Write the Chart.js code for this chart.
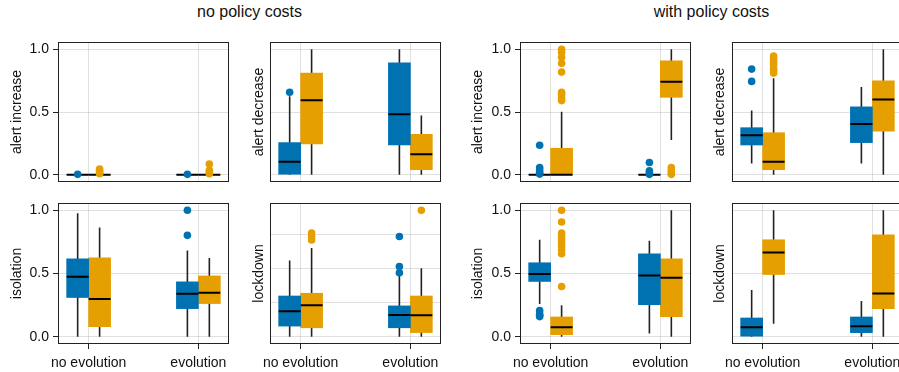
<!DOCTYPE html>
<html>
<head>
<meta charset="utf-8">
<script src="https://cdn.jsdelivr.net/npm/chart.js@4.4.0/dist/chart.umd.min.js"></script>
<style>
    html, body {
        margin: 0;
        padding: 0;
        background: #fff;
        width: 899px;
        height: 372px;
        overflow: hidden;
        position: relative;
        font-family: 'Liberation Sans', Arial, sans-serif;
    }
    .titulo {
        position: absolute;
        top: 2px;
        width: 381px;
        font-size: 16px;
        line-height: 20px;
        color: #111;
        text-align: center;
    }
    canvas { position: absolute; }
</style>
</head>
<body>
<div class="titulo" style="left:59px">no policy costs</div>
<div class="titulo" style="left:521px">with policy costs</div>
<script>
// Categorias do eixo x
const categorias = ['no evolution', 'evolution'];
const posCategorias = [1, 2];

// Cada caixa: [bigode inferior, q1, mediana, q3, bigode superior], uma por categoria
// A = série azul, B = série laranja

// no policy costs / alert increase
const ncAlertaSobeA = [[0, 0, 0, 0, 0], [0, 0, 0, 0, 0]];
const ncAlertaSobeB = [[0, 0, 0, 0, 0], [0, 0, 0, 0, 0]];
const ncAlertaSobeOutA = [[0.003], [0.003]];
const ncAlertaSobeOutB = [[0.008, 0.02, 0.035, 0.045], [0.008, 0.02, 0.035, 0.085]];

// no policy costs / alert decrease
const ncAlertaDesceA = [[0, 0, 0.103, 0.256, 0.625], [0, 0.237, 0.483, 0.892, 1.0]];
const ncAlertaDesceB = [[0, 0.245, 0.594, 0.81, 1.0], [0, 0.04, 0.164, 0.322, 0.472]];
const ncAlertaDesceOutA = [[0.657], []];
const ncAlertaDesceOutB = [[], []];

// no policy costs / isolation
const ncIsolamentoA = [[0, 0.31, 0.474, 0.616, 0.976], [0, 0.222, 0.339, 0.434, 0.683]];
const ncIsolamentoB = [[0, 0.079, 0.299, 0.624, 0.865], [0, 0.262, 0.347, 0.481, 0.622]];
const ncIsolamentoOutA = [[], [0.802, 1.0]];
const ncIsolamentoOutB = [[], []];

// no policy costs / lockdown
const ncLockdownA = [[0, 0.031, 0.074, 0.119, 0.223], [0, 0.026, 0.0635, 0.09, 0.178]];
const ncLockdownB = [[0, 0.026, 0.092, 0.127, 0.259], [0, 0.012, 0.0626, 0.119, 0.2]];
const ncLockdownOutA = [[], [0.187, 0.205, 0.293]];
const ncLockdownOutB = [[0.283, 0.293, 0.303], [0.3695]];

// with policy costs / alert increase
const wcAlertaSobeA = [[0, 0, 0, 0, 0], [0, 0, 0, 0, 0]];
const wcAlertaSobeB = [[0, 0, 0, 0.211, 0.501], [0.277, 0.617, 0.741, 0.908, 1.0]];
const wcAlertaSobeOutA = [[0.005, 0.02, 0.04, 0.058, 0.235], [0.003, 0.013, 0.032, 0.098]];
const wcAlertaSobeOutB = [[0.591, 0.612, 0.639, 0.657, 0.818, 0.889, 0.937, 0.974, 1.0], [0.003, 0.013, 0.032, 0.058]];

// with policy costs / alert decrease
const wcAlertaDesceA = [[0.09, 0.237, 0.314, 0.375, 0.512], [0.09, 0.256, 0.404, 0.541, 0.699]];
const wcAlertaDesceB = [[0, 0.04, 0.103, 0.335, 0.77], [0, 0.348, 0.599, 0.749, 1.0]];
const wcAlertaDesceOutA = [[0.744, 0.842], []];
const wcAlertaDesceOutB = [[0.81, 0.83, 0.85, 0.88, 0.9, 0.92, 0.945], []];

// with policy costs / isolation
const wcIsolamentoA = [[0.259, 0.437, 0.497, 0.585, 0.767], [0.026, 0.254, 0.484, 0.656, 0.759]];
const wcIsolamentoB = [[0, 0.016, 0.074, 0.156, 0.249], [0, 0.159, 0.466, 0.616, 1.0]];
const wcIsolamentoOutA = [[0.159, 0.17, 0.18, 0.206], []];
const wcIsolamentoOutB = [[0.397, 0.656, 0.685, 0.714, 0.741, 0.77, 0.794, 0.82, 0.907, 1.0], []];

// with policy costs / lockdown
const wcLockdownA = [[0, 0, 0.074, 0.148, 0.37], [0, 0.032, 0.082, 0.156, 0.283]];
const wcLockdownB = [[0.103, 0.492, 0.667, 0.767, 1.0], [0, 0.222, 0.341, 0.807, 1.0]];
const wcLockdownOutA = [[], []];
const wcLockdownOutB = [[], []];

// Marcas do eixo y
const ticksPadrao = [0, 0.5, 1];
const ticksLockdown = [0, 0.1, 0.2, 0.3];

// Cores e layout
const corA = '#0072B2';
const corB = '#E69F00';
const corGrade = 'rgba(0, 0, 0, 0.12)';
const corEixo = '#222';
const corTexto = '#111';
const fonte = "'Liberation Sans', Arial, sans-serif";

const colunas = [59, 271, 521, 733];
const linhas = [43, 204];
const centroTituloY = [17.3, 259.3, 478.3, 720];
const larguraPlot = 169;
const alturaPlot = 139;
const margemEsq = 59;
const margemDir = 6;
const margemSup = 5;
const margemInf = 3;
const margemInfRotulos = 30;
const xMin = 0.73, xMax = 2.27;
const deslocamento = 0.1;
const larguraCaixa = 0.2;

const paineis = [
    { col: 0, lin: 0, rotulo: 'alert increase', a: ncAlertaSobeA, b: ncAlertaSobeB, aOut: ncAlertaSobeOutA, bOut: ncAlertaSobeOutB, topo: 1, ticks: ticksPadrao },
    { col: 1, lin: 0, rotulo: 'alert decrease', a: ncAlertaDesceA, b: ncAlertaDesceB, aOut: ncAlertaDesceOutA, bOut: ncAlertaDesceOutB, topo: 1, ticks: ticksPadrao },
    { col: 0, lin: 1, rotulo: 'isolation', a: ncIsolamentoA, b: ncIsolamentoB, aOut: ncIsolamentoOutA, bOut: ncIsolamentoOutB, topo: 1, ticks: ticksPadrao },
    { col: 1, lin: 1, rotulo: 'lockdown', a: ncLockdownA, b: ncLockdownB, aOut: ncLockdownOutA, bOut: ncLockdownOutB, topo: 0.3695, ticks: ticksLockdown },
    { col: 2, lin: 0, rotulo: 'alert increase', a: wcAlertaSobeA, b: wcAlertaSobeB, aOut: wcAlertaSobeOutA, bOut: wcAlertaSobeOutB, topo: 1, ticks: ticksPadrao },
    { col: 3, lin: 0, rotulo: 'alert decrease', a: wcAlertaDesceA, b: wcAlertaDesceB, aOut: wcAlertaDesceOutA, bOut: wcAlertaDesceOutB, topo: 1, ticks: ticksPadrao },
    { col: 2, lin: 1, rotulo: 'isolation', a: wcIsolamentoA, b: wcIsolamentoB, aOut: wcIsolamentoOutA, bOut: wcIsolamentoOutB, topo: 1, ticks: ticksPadrao },
    { col: 3, lin: 1, rotulo: 'lockdown', a: wcLockdownA, b: wcLockdownB, aOut: wcLockdownOutA, bOut: wcLockdownOutB, topo: 1, ticks: ticksPadrao }
];

// Moldura completa em volta da área do gráfico
const molduraPlugin = {
    id: 'moldura',
    afterDraw(chart) {
        const { ctx, chartArea: a } = chart;
        ctx.save();
        ctx.strokeStyle = corEixo;
        ctx.lineWidth = 1;
        ctx.strokeRect(a.left - 0.5, a.top - 0.5, a.right - a.left + 1, a.bottom - a.top + 1);
        ctx.restore();
    }
};

// Zera o espaço extra que o Chart.js reserva para os rótulos das pontas
function semPadding(s) {
    s.paddingTop = 0;
    s.paddingBottom = 0;
    s.paddingLeft = 0;
    s.paddingRight = 0;
}

function montarSerie(caixas, outliers, cor, desloc, datasets) {
    const bigodes = [];
    const medianas = [];
    const barras = [];
    const pontos = [];

    caixas.forEach((c, i) => {
        const x = posCategorias[i] + desloc;
        bigodes.push({ x: x, y: c[0] }, { x: x, y: c[4] }, { x: x, y: null });
        barras.push({ x: x, y: [c[1], c[3]] });
        medianas.push({ x: x - larguraCaixa / 2, y: c[2] }, { x: x + larguraCaixa / 2, y: c[2] }, { x: x, y: null });
        outliers[i].forEach(v => pontos.push({ x: x, y: v }));
    });

    datasets.push({
        type: 'line', data: bigodes, borderColor: corEixo, borderWidth: 1.6,
        pointRadius: 0, spanGaps: false, order: 4
    });
    datasets.push({
        type: 'bar', data: barras, backgroundColor: cor, borderWidth: 0,
        grouped: false, barThickness: Math.round(larguraCaixa * larguraPlot / (xMax - xMin)), order: 3
    });
    datasets.push({
        type: 'line', data: medianas, borderColor: '#000', borderWidth: 2,
        pointRadius: 0, spanGaps: false, order: 2
    });
    datasets.push({
        type: 'scatter', data: pontos, backgroundColor: cor, borderWidth: 0,
        pointRadius: 3.8, order: 1
    });
}

function criarPainel(p) {
    const inferior = p.lin === 1;
    const comRotulosY = p.col % 2 === 0;
    const esquerda = colunas[p.col] - margemEsq;

    const canvas = document.createElement('canvas');
    canvas.width = larguraPlot + margemEsq + margemDir;
    canvas.height = alturaPlot + margemSup + (inferior ? margemInfRotulos : margemInf);
    canvas.style.left = esquerda + 'px';
    canvas.style.top = (linhas[p.lin] - margemSup) + 'px';
    document.body.appendChild(canvas);

    const datasets = [];
    montarSerie(p.a, p.aOut, corA, -deslocamento, datasets);
    montarSerie(p.b, p.bOut, corB, deslocamento, datasets);

    new Chart(canvas.getContext('2d'), {
        type: 'bar',
        data: { datasets: datasets },
        plugins: [molduraPlugin],
        options: {
            responsive: false,
            animation: false,
            devicePixelRatio: 1,
            layout: { padding: { top: margemSup, right: margemDir, left: 0, bottom: 0 } },
            plugins: {
                legend: { display: false },
                tooltip: { enabled: false }
            },
            scales: {
                x: {
                    type: 'linear',
                    min: xMin,
                    max: xMax,
                    offset: false,
                    afterBuildTicks: s => {
                        s.ticks = (inferior ? posCategorias : [1, 1.5, 2]).map(v => ({ value: v }));
                    },
                    afterFit: s => {
                        s.height = inferior ? margemInfRotulos : margemInf;
                        semPadding(s);
                    },
                    grid: {
                        color: corGrade,
                        offset: false,
                        drawTicks: inferior,
                        tickLength: 6,
                        tickColor: corEixo
                    },
                    border: { display: false },
                    ticks: {
                        display: inferior,
                        autoSkip: false,
                        maxRotation: 0,
                        padding: 6,
                        color: corTexto,
                        font: { size: 14, family: fonte },
                        callback: v => categorias[posCategorias.indexOf(v)]
                    }
                },
                y: {
                    type: 'linear',
                    min: -0.05 * p.topo,
                    max: 1.05 * p.topo,
                    afterBuildTicks: s => { s.ticks = p.ticks.map(v => ({ value: v })); },
                    afterFit: s => {
                        s.width = margemEsq;
                        semPadding(s);
                    },
                    grid: {
                        color: corGrade,
                        drawTicks: comRotulosY,
                        tickLength: 6,
                        tickColor: corEixo
                    },
                    border: { display: false },
                    ticks: {
                        display: comRotulosY,
                        padding: 4,
                        color: corTexto,
                        font: { size: 14, family: fonte },
                        callback: v => v.toFixed(1)
                    },
                    title: {
                        display: true,
                        text: p.rotulo,
                        color: corTexto,
                        font: { size: 14, family: fonte },
                        padding: { top: centroTituloY[p.col] - esquerda - 8.4, bottom: 0 }
                    }
                }
            }
        }
    });
}

paineis.forEach(criarPainel);
</script>
</body>
</html>
